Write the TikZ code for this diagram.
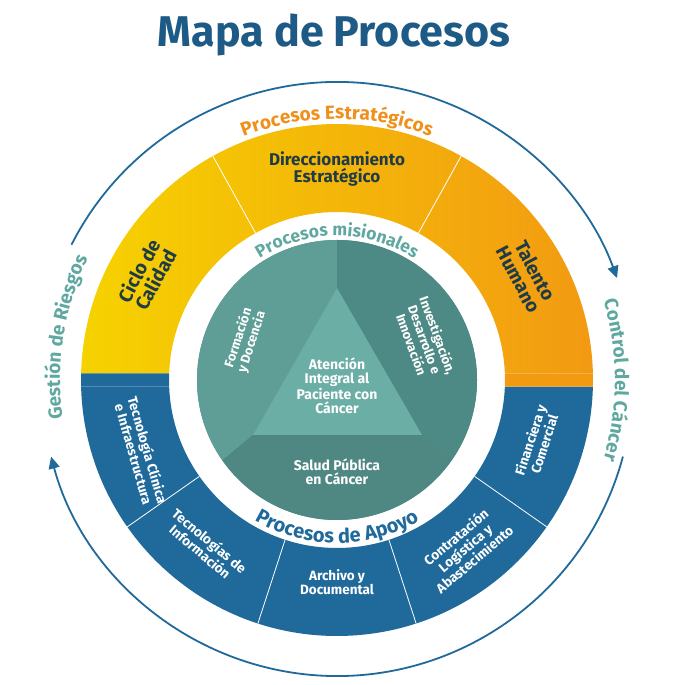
\documentclass[tikz,border=0pt]{standalone}
\usepackage{fontspec}
\setmainfont{Fira Sans}
\usetikzlibrary{decorations.text,arrows.meta}
\definecolor{ttl}{HTML}{1D5B86}
\definecolor{blu}{HTML}{1F6A9B}
\definecolor{yel}{HTML}{F6D200}
\definecolor{org}{HTML}{F29A12}
\definecolor{ortx}{HTML}{F0901A}
\definecolor{tea}{HTML}{5FA8A0}
\definecolor{teaA}{HTML}{5E9E97}
\definecolor{teaB}{HTML}{4D8A85}
\definecolor{teaC}{HTML}{4F8883}
\definecolor{teaT}{HTML}{6BAEA6}
\definecolor{dtx}{HTML}{1F3B45}
\tikzset{
  fs/.style={font=\fontsize{#1}{#1}\selectfont\bfseries},
  ylab/.style={fs=17,text=dtx,align=center},
  blab/.style={font=\fontsize{13.5}{14.5}\selectfont\bfseries,text=white,align=center},
  tlab/.style={font=\fontsize{13}{14}\selectfont\bfseries,text=white,align=center},
  div/.style={white,line width=0.8pt},
  arr/.style={blu,line width=1.8pt,-{Triangle[length=12pt,width=11pt]}},
}
\begin{document}
\begin{tikzpicture}[x=1pt,y=1pt]
\useasboundingbox (0,0) rectangle (672,685);
\fill[white] (0,0) rectangle (672,685);
\node[fs=43,text=ttl] (title) at (334,650) {Mapa de Procesos};
\begin{scope}[shift={(337pt,305pt)}]
% yellow ring
\shade[left color=yel,right color=org] (1.5:256pt) arc[start angle=1.5,end angle=178.5,radius=256pt] -- (177.7:168pt) arc[start angle=177.7,end angle=2.3,radius=168pt] -- cycle;
% blue ring
\fill[blu] (181.5:256pt) arc[start angle=181.5,end angle=358.5,radius=256pt] -- (357.7:168pt) arc[start angle=357.7,end angle=182.3,radius=168pt] -- cycle;
\fill[blu] (178.5:256pt) -- (181.5:256pt) -- (182.3:168pt) -- (177.7:168pt) -- cycle;
\fill[org] (1.5:256pt) -- (-1.5:256pt) -- (-2.3:168pt) -- (2.3:168pt) -- cycle;
\foreach \a in {119,61,215,252,288,325} \draw[div] (\a:168pt) -- (\a:256pt);
% teal circle
\fill[teaB] (0,0) circle[radius=140pt];
\fill[teaA] (0,92) -- (90:140pt) arc[start angle=90,end angle=215,radius=140pt] -- (-84,-55) -- cycle;
\fill[teaB] (0,92) -- (90:140pt) arc[start angle=90,end angle=-35,radius=140pt] -- (85,-55) -- cycle;
\fill[teaC] (-84,-55) -- (215:140pt) arc[start angle=215,end angle=325,radius=140pt] -- (85,-55) -- cycle;
\fill[teaT] (0,92) coordinate (apx) -- (-84,-55) -- (85,-55) -- cycle;
% arrows
\draw[arr] (153:298pt) arc[start angle=153,end angle=20,radius=298pt];
\draw[arr] (-15:296pt) arc[start angle=-15,end angle=-165,radius=296pt];
% curved labels
\path[decorate,decoration={text along path,text align=center,text={|\fontsize{19}{19}\selectfont\bfseries\color{ortx}|Procesos Estratégicos}}] (150:261pt) arc[start angle=150,end angle=30,radius=261pt];
\path[decorate,decoration={text along path,text align=center,text={|\fontsize{17.5}{17.5}\selectfont\bfseries\color{tea}|Procesos misionales}}] (145:144pt) arc[start angle=145,end angle=35,radius=144pt];
\path[decorate,decoration={text along path,text align=center,text={|\fontsize{20}{20}\selectfont\bfseries\color{blu}|Procesos de Apoyo}}] (205:163pt) arc[start angle=205,end angle=335,radius=163pt];
\path[decorate,decoration={text along path,text align=center,text={|\fontsize{19}{19}\selectfont\bfseries\color{tea}|Gestión de Riesgos}}] (207:277pt) arc[start angle=207,end angle=135,radius=277pt];
\path[decorate,decoration={text along path,text align=center,text={|\fontsize{19}{19}\selectfont\bfseries\color{tea}|Control del Cáncer}}] (36:278pt) arc[start angle=36,end angle=-36,radius=278pt];
% ring labels
\node[ylab] (dir) at (0,211) {Direccionamiento\\Estratégico};
\node[ylab,fs=19,rotate=62] (cic) at (-190,105) {Ciclo de\\Calidad};
\node[ylab,fs=19,rotate=-62] (tal) at (190,105) {Talento\\Humano};
\node[blab,rotate=-74] (tec) at (-196,-72) {Tecnología Clínica\\e Infraestructura};
\node[blab,rotate=-40] (tin) at (-132,-166) {Tecnologías de\\Información};
\node[blab] (arc) at (0,-202) {Archivo y\\Documental};
\node[blab,rotate=40] (con) at (128,-168) {Contratación\\Logística y\\Abastecimiento};
\node[blab,rotate=72] (fin) at (200,-62) {Financiera y\\Comercial};
\node[tlab,rotate=72] (for) at (-92,40) {Formación\\y Docencia};
\node[tlab,rotate=-70] (inv) at (88,40) {Investigación,\\Desarrollo e\\Innovación};
\node[tlab,fs=14] (ate) at (0,-6) {Atención\\Integral al\\Paciente con\\Cáncer};
\node[tlab,fs=14] (sal) at (0,-92) {Salud Pública\\en Cáncer};
\end{scope}
\end{tikzpicture}
\end{document}
